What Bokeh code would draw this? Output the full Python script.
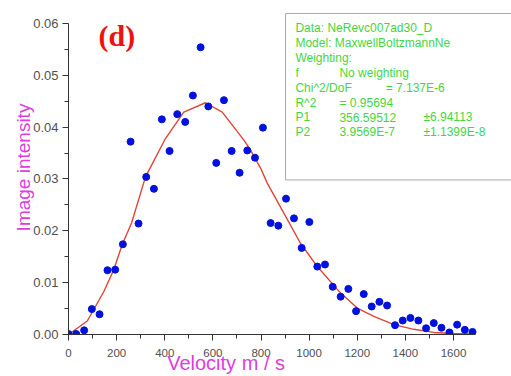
from bokeh.plotting import figure
from bokeh.models import Range1d, FixedTicker, PrintfTickFormatter, Label
from bokeh.embed import file_html
from bokeh.resources import INLINE

# ---- data ----
velocity = [0, 32, 65, 97, 129, 162, 194, 226, 258, 291, 323, 355, 388, 420, 452,
            485, 517, 549, 581, 614, 646, 678, 711, 743, 775, 808, 840, 872, 904,
            937, 969, 1001, 1034, 1066, 1098, 1131, 1163, 1195, 1227, 1260, 1292,
            1324, 1357, 1389, 1421, 1454, 1486, 1518, 1550, 1583, 1615, 1647, 1679]
intensity = [0.0001, 0.0001, 0.0008, 0.0049, 0.0039, 0.0124, 0.0125, 0.0174, 0.0372,
             0.0214, 0.0304, 0.0281, 0.0415, 0.0354, 0.0425, 0.0410, 0.0461, 0.0554,
             0.0440, 0.0331, 0.0452, 0.0354, 0.0312, 0.0355, 0.0341, 0.0399, 0.0215,
             0.0210, 0.0262, 0.0224, 0.0167, 0.0217, 0.0131, 0.0135, 0.0092, 0.0073,
             0.0088, 0.0045, 0.0078, 0.0054, 0.0063, 0.0056, 0.0018, 0.0027, 0.0032,
             0.0027, 0.0012, 0.0022, 0.0013, 0.0004, 0.0019, 0.0009, 0.0005]
fit_v = [0, 78, 147, 188, 223, 262, 320, 403, 479, 569, 639, 729, 756, 798, 826,
         895, 964, 1034, 1117, 1131, 1200, 1269, 1352, 1435, 1518, 1601, 1685]
fit_i = [0.0, 0.0026, 0.0083, 0.0125, 0.0173, 0.0215, 0.0304, 0.0378, 0.0429, 0.0447,
         0.0429, 0.0375, 0.0356, 0.0321, 0.0292, 0.0234, 0.0176, 0.0131, 0.0087,
         0.0080, 0.0051, 0.0035, 0.0019, 0.0010, 0.0004, 0.0002, 0.0001]
x_ticks = [0, 200, 400, 600, 800, 1000, 1200, 1400, 1600]
x_minor = [100, 300, 500, 700, 900, 1100, 1300, 1500]
y_ticks = [0.0, 0.01, 0.02, 0.03, 0.04, 0.05, 0.06]
y_minor = [0.005, 0.015, 0.025, 0.035, 0.045, 0.055]
legend_rows = [
    ["Data: NeRevc007ad30_D", "", ""],
    ["Model: MaxwellBoltzmannNe", "", ""],
    ["Weighting:", "", ""],
    ["f", "No weighting", ""],
    ["Chi^2/DoF", "", "= 7.137E-6"],
    ["R^2", "=  0.95694", ""],
    ["P1", "356.59512", "\u00b16.94113"],
    ["P2", "3.9569E-7", "\u00b11.1399E-8"],
]

MAGENTA = "#e03ce0"
GREEN = "#3fd83f"
NBSP = "\u00a0"

p = figure(width=511, height=376, output_backend="svg", toolbar_location=None,
           x_range=Range1d(0, 1841), y_range=Range1d(0, 0.064423),
           min_border_left=68, min_border_right=0, min_border_top=0,
           min_border_bottom=41)
p.outline_line_color = None
p.xgrid.visible = False
p.ygrid.visible = False
p.background_fill_color = "white"

# axes
for ax in (p.xaxis[0], p.yaxis[0]):
    ax.axis_line_color = "#333333"
    ax.major_tick_line_color = "#333333"
    ax.minor_tick_line_color = "#333333"
    ax.major_tick_in = 0
    ax.major_tick_out = 6
    ax.minor_tick_in = 0
    ax.minor_tick_out = 4
    ax.major_label_text_color = "#505050"
    ax.major_label_text_font = "Liberation Sans"

p.xaxis.ticker = FixedTicker(ticks=x_ticks, minor_ticks=x_minor)
p.xaxis.bounds = (0, 1690)
p.xaxis.major_label_text_font_size = "11.5px"
p.xaxis.major_label_standoff = 8
# label sits left of the frame centre, as in the reference
p.xaxis.axis_label = "Velocity m / s" + NBSP * 23
p.xaxis.axis_label_text_color = MAGENTA
p.xaxis.axis_label_text_font = "Liberation Sans"
p.xaxis.axis_label_text_font_style = "normal"
p.xaxis.axis_label_text_font_size = "20px"
p.xaxis.axis_label_standoff = -8

p.yaxis.ticker = FixedTicker(ticks=y_ticks, minor_ticks=y_minor)
p.yaxis.bounds = (0, 0.06)
p.yaxis.formatter = PrintfTickFormatter(format="%.2f")
p.yaxis.major_label_text_font_size = "13px"
p.yaxis.major_label_standoff = 4
p.yaxis.axis_label = "Image intensity"
p.yaxis.axis_label_text_color = MAGENTA
p.yaxis.axis_label_text_font = "Liberation Sans"
p.yaxis.axis_label_text_font_style = "normal"
p.yaxis.axis_label_text_font_size = "19px"
p.yaxis.axis_label_standoff = -4

# data
p.line(fit_v, fit_i, line_color="#e04535", line_width=1.4)
p.scatter(velocity, intensity, size=7, fill_color="#0010dd", line_color="#0010dd")

# panel label
p.add_layout(Label(x=125, y=0.06077, text="(d)", text_align="left",
                   text_baseline="top", text_color="#ee1111",
                   text_font="Liberation Serif", text_font_style="bold",
                   text_font_size="30px"))

# fit report box (runs off the right edge, as in the reference)
p.quad(left=[902], right=[2000], top=[0.06192], bottom=[0.02981],
       fill_color="white", line_color="#a8a8a8", line_width=1)
col_x = [943, 1126, 1318]
col_x_p = [943, 1126, 1475]
row_y0 = 0.05917
row_step = 0.002885
for r, row in enumerate(legend_rows):
    xs = col_x_p if r >= 6 else col_x
    for c, txt in enumerate(row):
        if not txt:
            continue
        p.add_layout(Label(x=xs[c], y=row_y0 - r * row_step, text=txt,
                           text_align="left", text_baseline="middle",
                           text_color=GREEN, text_font="Liberation Sans",
                           text_font_size="12px"))

open("out.html", "w").write(file_html(p, INLINE))
